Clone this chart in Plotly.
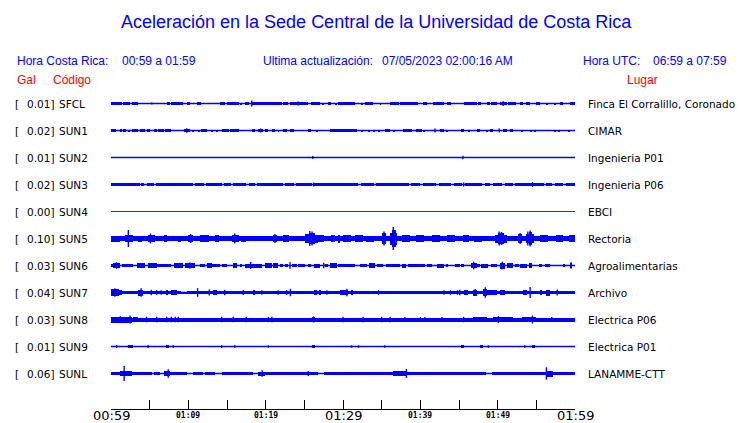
import plotly.graph_objects as go

# ---------------- data ----------------
codes = ["SFCL", "SUN1", "SUN2", "SUN3", "SUN4", "SUN5", "SUN6", "SUN7", "SUN8", "SUN9", "SUNL"]
gal = ["0.01", "0.02", "0.01", "0.02", "0.00", "0.10", "0.03", "0.04", "0.03", "0.01", "0.06"]
places = ["Finca El Corralillo, Coronado", "CIMAR", "Ingenieria P01", "Ingenieria P06", "EBCI",
          "Rectoria", "Agroalimentarias", "Archivo", "Electrica P06", "Electrica P01", "LANAMME-CTT"]
trace_colors = ["#0000ff", "#0000ff", "#0000ff", "#0000ff", "#d00000", "#0000ff",
                "#0000ff", "#0000ff", "#0000ff", "#0000ff", "#0000ff"]

# minutes after 00:59
tick_minutes = [0, 5, 10, 15, 20, 25, 30, 35, 40, 45, 50, 55, 60]
label_minutes = [0, 10, 20, 30, 40, 50, 60]
label_texts = ["00:59", "01:09", "01:19", "01:29", "01:39", "01:49", "01:59"]
label_major = [True, False, False, True, False, False, True]

# bursts: (start_min, end_min, half amplitude), spikes: (minute, half amplitude)
bursts_sfcl = [(0, 1.4, 1.3), (1.6, 2.5, 1.3), (2.7, 3.5, 1.2), (7.2, 7.6, 1.1), (7.8, 9.3, 1.2),
               (9.8, 10.2, 1.1), (11.1, 11.7, 1.2), (14.1, 14.7, 1.2), (15.0, 16.5, 1.2), (16.7, 16.9, 1.0),
               (17.3, 17.8, 1.2), (18.2, 22.1, 1.3), (22.3, 22.9, 1.2), (23.2, 25.5, 1.3), (25.9, 27.0, 1.2),
               (27.4, 27.6, 1.0), (28.1, 28.5, 1.1), (29.0, 29.1, 1.0), (29.4, 31.5, 1.3), (32.4, 32.6, 1.0),
               (32.8, 33.9, 1.2), (34.8, 34.9, 1.0), (36.1, 37.2, 1.2), (37.4, 39.7, 1.3), (40.4, 40.8, 1.1),
               (41.7, 43.0, 1.2), (43.4, 44.0, 1.1), (45.6, 47.3, 1.3), (47.5, 47.9, 1.1), (48.6, 49.0, 1.1),
               (49.2, 49.9, 1.1), (50.3, 51.2, 1.3), (51.4, 52.4, 1.2), (52.9, 53.3, 1.1), (53.7, 54.2, 1.1),
               (55.0, 55.5, 1.1), (56.3, 56.4, 1.0), (57.4, 57.6, 1.0), (58.1, 58.5, 1.1), (59.3, 60, 1.2)]
spikes_sfcl = [(5.26, 1.0), (18.2, 3.0), (24.2, 2.0), (50.7, 2.5)]

bursts_sun1 = [(0, 0.7, 1.4), (1.2, 1.4, 1.1), (1.6, 2.0, 1.1), (2.2, 2.5, 1.0), (2.7, 3.5, 1.1), (3.75, 4.4, 1.1),
               (4.6, 5.0, 1.3), (5.5, 5.9, 1.1), (6.1, 6.8, 1.1), (7.0, 7.8, 1.1), (9.4, 10.2, 1.1),
               (10.6, 10.7, 1.0), (11.3, 11.4, 1.0), (11.7, 12.4, 1.1), (13.0, 13.1, 1.0), (13.7, 13.9, 1.0),
               (14.3, 15.2, 1.1), (15.4, 16.5, 1.1), (18.2, 18.6, 1.1), (19.05, 19.7, 1.2), (19.9, 20.35, 1.1),
               (20.8, 21.2, 1.1), (21.6, 21.7, 1.0), (22.3, 22.7, 1.1), (23.15, 23.6, 1.1), (25.5, 25.9, 1.1),
               (26.6, 26.7, 1.0), (28.3, 31.8, 1.1), (32.4, 32.6, 1.0), (33.3, 33.4, 1.0), (33.9, 34.1, 1.0),
               (34.6, 34.8, 1.0), (35.4, 36.1, 1.1), (36.5, 36.6, 1.0), (37.8, 38.9, 1.2), (39.5, 40.2, 1.1),
               (40.4, 40.6, 1.0), (42.5, 43.0, 1.1), (43.4, 43.5, 1.0), (45.3, 45.6, 1.1), (46.2, 46.3, 1.0),
               (47.3, 47.7, 1.1), (48.6, 48.7, 1.0), (49.0, 49.4, 1.1), (50.7, 51.2, 1.1), (51.6, 52.0, 1.1),
               (53.1, 53.2, 1.0), (54.2, 54.4, 1.0), (54.8, 54.9, 1.0), (57.4, 57.6, 1.0), (57.8, 58.1, 1.0),
               (59.1, 59.35, 1.0)]
spikes_sun1 = [(9.8, 2.3), (19.35, 2.0), (41.9, 2.0), (50.2, 2.0)]

bursts_sun2 = []
spikes_sun2 = [(26.1, 1.5), (45.5, 1.8)]

bursts_sun3 = [(0, 3.7, 1.3), (3.9, 4.3, 1.1), (4.6, 5.6, 1.2), (5.8, 10.6, 1.2), (10.9, 12.0, 1.1),
               (12.3, 14.3, 1.2), (14.6, 15.5, 1.2), (15.8, 17.5, 1.2), (17.8, 18.6, 1.1), (18.9, 22.2, 1.2),
               (22.5, 23.6, 1.1), (23.9, 26.0, 1.2), (26.3, 32.0, 1.2), (32.3, 34.0, 1.2), (34.3, 38.5, 1.2),
               (38.8, 40.0, 1.1), (40.3, 42.0, 1.2), (42.4, 44.0, 1.1), (44.3, 45.4, 1.2), (45.8, 48.0, 1.2),
               (48.3, 49.0, 1.1), (49.4, 50.5, 1.1), (50.9, 52.0, 1.2), (52.2, 56.0, 1.2), (56.3, 57.0, 1.1),
               (57.4, 58.5, 1.1), (58.8, 60, 1.1)]
spikes_sun3 = [(26.2, 2.0), (45.6, 2.0), (54.5, 2.4)]

bursts_sun4 = []
spikes_sun4 = []

bursts_sun5 = [(0, 60, 2.4), (0.0, 1.2, 3.0), (1.8, 2.8, 3.5), (3.5, 4.0, 3.0), (4.8, 5.7, 3.6), (6.8, 7.2, 3.2),
               (8.6, 9.0, 3.0), (10.0, 10.6, 3.6), (11.5, 12.7, 3.2), (13.5, 14.0, 3.2), (15.6, 16.5, 3.8),
               (16.8, 17.5, 3.0), (20.9, 21.5, 3.6), (22.3, 23.0, 3.2), (25.1, 25.6, 4.5), (25.6, 26.4, 5.5),
               (26.4, 26.8, 4.0), (26.8, 27.5, 3.6), (28.5, 29.0, 3.5), (29.3, 29.6, 4.0), (30.0, 31.0, 3.5),
               (31.6, 32.6, 3.8), (33.0, 34.0, 3.0), (35.0, 35.6, 5.5), (36.1, 36.4, 6.0), (36.4, 36.8, 8.5),
               (36.8, 37.0, 6.0), (37.6, 38.7, 3.8), (39.5, 40.5, 3.2), (41.5, 42.5, 3.2), (43.5, 44.5, 3.2),
               (45.5, 46.3, 3.5), (47.0, 48.0, 3.0), (49.6, 50.0, 4.0), (50.0, 50.8, 5.5), (50.8, 51.2, 4.0),
               (52.6, 53.2, 4.5), (53.7, 54.0, 4.5), (54.0, 54.5, 6.5), (54.5, 54.7, 4.5), (55.5, 56.5, 3.2),
               (57.5, 58.5, 3.2), (59.2, 60, 3.5)]
spikes_sun5 = [(2.24, 8.5), (5.1, 5.0), (10.3, 4.5), (16.0, 5.0), (21.2, 4.5), (25.7, 7.5), (26.0, 7.0),
               (35.3, 7.0), (36.5, 11.5), (50.2, 7.0), (50.5, 6.5), (52.9, 5.5), (53.9, 7.0), (54.2, 8.0)]

bursts_sun6 = [(0.0, 0.3, 1.2), (0.3, 1.2, 2.5), (1.4, 2.9, 1.7), (3.3, 4.4, 2.5), (4.8, 5.9, 2.2), (5.9, 7.8, 1.6),
               (8.1, 9.35, 2.4), (9.6, 10.9, 2.6), (11.5, 12.2, 1.5), (12.4, 13.0, 2.3), (13.0, 14.1, 1.6),
               (14.3, 15.0, 1.7), (15.8, 16.25, 2.2), (16.7, 16.9, 1.5), (17.3, 19.5, 2.0), (19.9, 20.8, 2.2),
               (21.0, 21.6, 2.3), (21.85, 22.3, 1.7), (22.5, 22.9, 1.7), (23.4, 24.0, 1.8), (24.2, 25.1, 1.8),
               (25.5, 25.9, 1.5), (26.2, 27.0, 2.0), (27.7, 28.1, 1.5), (28.3, 29.2, 2.5), (29.4, 31.55, 1.7),
               (32.2, 33.1, 1.9), (33.3, 34.1, 2.4), (34.35, 35.2, 1.9), (35.6, 37.4, 1.7), (37.6, 38.2, 2.0),
               (38.4, 40.6, 1.9), (40.8, 41.5, 1.6), (42.1, 43.0, 2.0), (43.4, 43.6, 1.5), (44.5, 45.1, 1.7),
               (45.3, 45.6, 1.5), (46.6, 47.3, 2.8), (47.3, 47.7, 1.8), (47.9, 48.8, 2.0), (49.2, 49.9, 1.6),
               (50.3, 50.9, 3.0), (51.2, 52.0, 2.3), (52.2, 52.7, 1.6), (52.9, 53.75, 2.0), (54.0, 54.4, 2.2),
               (55.3, 55.7, 1.6), (56.1, 56.8, 1.7), (58.5, 58.7, 1.5), (59.3, 59.6, 2.2)]
spikes_sun6 = [(0.73, 3.3), (10.2, 3.3), (18.06, 3.5), (23.15, 3.3), (27.5, 2.8), (46.9, 3.8), (50.6, 3.8),
               (59.5, 3.3)]

bursts_sun7 = [(0, 9.1, 1.8), (9.1, 9.8, 0.8), (9.8, 38.2, 1.8), (38.2, 40.8, 1.6), (40.8, 60, 1.8),
               (0, 1.0, 3.2), (1.0, 1.4, 2.4), (3.5, 4.2, 3.0), (7.2, 7.4, 2.6), (7.8, 8.5, 2.5), (13.2, 13.7, 2.8),
               (18.4, 18.6, 2.3), (26.2, 26.6, 2.8), (27.0, 27.2, 2.3), (29.6, 30.7, 2.6), (31.1, 31.3, 2.2),
               (45.6, 46.2, 2.4), (46.85, 47.3, 3.0), (48.1, 48.6, 3.8), (48.6, 49.9, 2.8), (50.3, 50.95, 2.6),
               (53.3, 53.75, 2.8), (55.5, 55.7, 2.4), (56.3, 56.8, 3.0)]
spikes_sun7 = [(0.5, 4.3), (3.9, 4.3), (5.2, 2.7), (5.9, 2.4), (6.5, 2.2), (11.2, 4.3), (12.7, 3.0), (14.7, 2.7),
               (17.1, 2.5), (19.5, 2.2), (21.6, 2.2), (22.7, 2.4), (23.2, 3.7), (27.9, 2.2), (30.5, 3.7),
               (34.6, 2.3), (43.06, 2.2), (43.9, 2.3), (44.8, 2.3), (45.1, 2.8), (47.1, 3.5), (48.4, 5.3),
               (54.2, 5.5), (57.7, 3.0)]

bursts_sun8 = [(0, 60, 2.0), (0, 2.7, 3.0), (2.9, 3.5, 2.8), (26.0, 26.4, 2.8), (46.85, 48.6, 2.7),
               (49.4, 52.0, 2.7), (53.1, 55.0, 2.8)]
spikes_sun8 = [(1.2, 3.3), (2.46, 4.0), (4.6, 2.8), (5.9, 2.8), (7.2, 2.8), (7.8, 2.8), (8.3, 2.8), (8.7, 2.8),
               (14.3, 2.7), (15.8, 2.7), (17.5, 2.7), (20.35, 2.7), (20.8, 2.7), (26.2, 3.0), (30.0, 2.7),
               (32.6, 2.7), (35.0, 2.7), (36.1, 2.7), (38.0, 2.5), (40.0, 2.5), (40.6, 2.5), (42.8, 2.5),
               (45.6, 2.7), (50.1, 3.4), (54.5, 4.0), (57.0, 2.5)]

bursts_sun9 = [(2.24, 2.9, 1.6), (7.2, 7.45, 1.4), (26.1, 26.35, 1.7), (45.3, 45.6, 1.5), (47.7, 48.1, 1.3),
               (54.4, 54.8, 1.6)]
spikes_sun9 = [(0.73, 1.6), (4.8, 1.4), (8.06, 1.4), (14.3, 1.4), (16.0, 1.2), (20.35, 1.2), (31.1, 1.2),
               (32.0, 1.2), (35.4, 1.2), (48.8, 1.2), (53.5, 1.3)]

bursts_sunl = [(0, 1.2, 1.7), (1.2, 2.7, 2.8), (2.7, 5.3, 1.7), (5.5, 6.3, 1.6), (6.8, 7.6, 2.8), (7.6, 9.8, 1.7),
               (10.6, 11.9, 1.7), (12.2, 13.4, 1.7), (14.3, 18.4, 1.7), (19.0, 19.9, 2.0), (19.9, 25.1, 1.7),
               (25.1, 26.8, 1.8), (27.5, 30.3, 1.7), (30.3, 31.4, 1.4), (31.4, 36.5, 1.7), (36.5, 38.2, 2.5),
               (38.2, 48.5, 1.7), (49.3, 56.3, 1.7), (56.3, 57.2, 3.0), (57.2, 60, 1.7)]
spikes_sunl = [(1.7, 7.5), (7.4, 4.3), (19.55, 3.3), (25.5, 2.5), (38.2, 4.5), (56.3, 6.2)]

bursts = [bursts_sfcl, bursts_sun1, bursts_sun2, bursts_sun3, bursts_sun4, bursts_sun5,
          bursts_sun6, bursts_sun7, bursts_sun8, bursts_sun9, bursts_sunl]
spikes = [spikes_sfcl, spikes_sun1, spikes_sun2, spikes_sun3, spikes_sun4, spikes_sun5,
          spikes_sun6, spikes_sun7, spikes_sun8, spikes_sun9, spikes_sunl]

# ---------------- layout constants ----------------
W, H = 740, 423
L, R, T, B = 111, 165, 90, 14
ROW_PX = 27.0
PW, PH = W - L - R, H - T - B
Y_TOP = (103.5 - T) / ROW_PX
Y_BOT = Y_TOP - PH / ROW_PX

BLUE = "#0000ff"
RED = "#ff0000"
HFONT = "Liberation Sans, Arial, sans-serif"
LFONT = "DejaVu Sans, sans-serif"


def px2x(px):
    return (px - L) / PW


def py2y(py):
    return (H - B - py) / PH


fig = go.Figure()

for i, code in enumerate(codes):
    y0 = -i
    col = trace_colors[i]
    lw = 1.0 if not bursts[i] and not spikes[i] else 1.3
    fig.add_trace(go.Scatter(x=[0, 60], y=[y0, y0], mode="lines", line=dict(color=col, width=lw),
                             hoverinfo="skip", showlegend=False))
    b = bursts[i]
    if b:
        fig.add_trace(go.Bar(
            x=[(s + e) / 2 for s, e, a in b],
            width=[e - s for s, e, a in b],
            base=[y0 - a / ROW_PX for s, e, a in b],
            y=[2 * a / ROW_PX for s, e, a in b],
            marker=dict(color=col, line=dict(width=0)),
            hoverinfo="skip", showlegend=False))
    sp = spikes[i]
    if sp:
        xs, ys = [], []
        for t, a in sp:
            xs += [t, t, None]
            ys += [y0 - a / ROW_PX, y0 + a / ROW_PX, None]
        fig.add_trace(go.Scatter(x=xs, y=ys, mode="lines", line=dict(color=col, width=1.4),
                                 hoverinfo="skip", showlegend=False))

ann = []
# title & headers
ann.append(dict(text="Aceleración en la Sede Central de la Universidad de Costa Rica", xref="paper", yref="paper",
                x=px2x(376), y=py2y(22), xanchor="center", yanchor="middle", showarrow=False,
                font=dict(family=HFONT, size=18, color=BLUE)))
hdr = [("Hora Costa Rica:", 15, BLUE, 61), ("00:59 a 01:59", 120, BLUE, 61),
       ("Ultima actualización:", 261, BLUE, 61), ("07/05/2023 02:00:16 AM", 380, BLUE, 61),
       ("Hora UTC:", 581, BLUE, 61), ("06:59 a 07:59", 651, BLUE, 61),
       ("Gal", 15, RED, 80), ("Código", 51, RED, 80), ("Lugar", 625, RED, 80)]
for txt, px, col, py in hdr:
    ann.append(dict(text=txt, xref="paper", yref="paper", x=px2x(px), y=py2y(py), xanchor="left",
                    yanchor="middle", showarrow=False, font=dict(family=HFONT, size=12, color=col)))

# row labels
for i, code in enumerate(codes):
    common = dict(xref="paper", yref="y", y=-i, yanchor="middle", showarrow=False,
                  font=dict(family=LFONT, size=10.5, color="black"))
    ann.append(dict(text="[", x=px2x(13), xanchor="left", **common))
    ann.append(dict(text=gal[i] + "]", x=px2x(56), xanchor="right", **common))
    ann.append(dict(text=code, x=px2x(57), xanchor="left", **common))
    ann.append(dict(text=places[i], x=px2x(586), xanchor="left", **common))

# time labels
for m, txt, major in zip(label_minutes, label_texts, label_major):
    if major:
        f = dict(family="DejaVu Sans, sans-serif", size=13, color="black")
    else:
        f = dict(family="DejaVu Sans Mono, monospace", size=8, color="black")
        txt = "<b>" + txt + "</b>"
    ann.append(dict(text=txt, xref="x", yref="paper", x=m, y=0, xanchor="center", yanchor="middle",
                    yshift=-6, showarrow=False, font=f))

fig.update_layout(
    width=W, height=H, margin=dict(l=L, r=R, t=T, b=B, pad=0),
    paper_bgcolor="white", plot_bgcolor="white",
    barmode="overlay", bargap=0,
    showlegend=False,
    annotations=ann,
    xaxis=dict(range=[0, 60], tickvals=tick_minutes, ticks="inside", ticklen=9, tickwidth=1,
               tickcolor="black", showticklabels=False, showline=True, linecolor="black", linewidth=1,
               showgrid=False, zeroline=False, fixedrange=True),
    yaxis=dict(range=[Y_BOT, Y_TOP], visible=False, showgrid=False, zeroline=False, fixedrange=True),
)

fig.write_html("out.html", config={"displayModeBar": False},
               post_script="document.body.style.margin='0';document.body.style.overflow='hidden';")
